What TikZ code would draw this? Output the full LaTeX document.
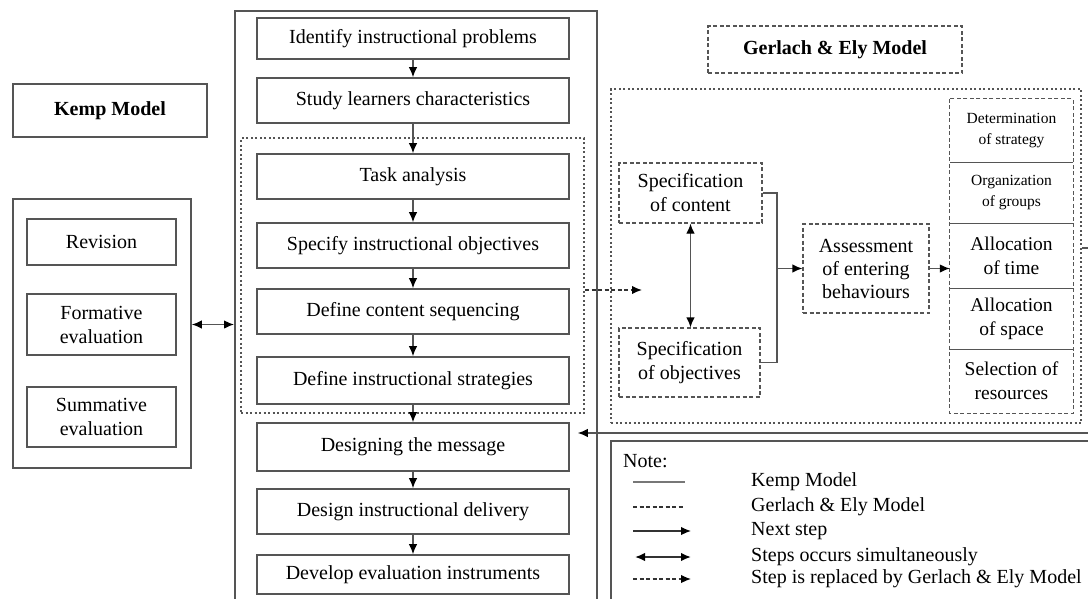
\documentclass[tikz,border=0pt]{standalone}
\usepackage{fontspec}
\setmainfont{Liberation Serif}
\usetikzlibrary{arrows.meta,calc}
\definecolor{lc}{HTML}{555555}
\tikzset{
  txt/.style={align=center, inner sep=0pt, font=\fontsize{20}{24}\selectfont},
  box/.style={txt, draw=lc, line width=1.6pt},
  dbox/.style={txt, draw=lc, line width=1.3pt, dash pattern=on 4pt off 2.5pt},
  dotbox/.style={draw=lc, line width=2pt, dash pattern=on 2pt off 2.5pt, inner sep=0pt},
  tip/.tip={Latex[length=10pt,width=8.5pt,color=black]},
  arr/.style={draw=lc, line width=1.3pt, -tip},
  darr/.style={draw=lc, line width=1.5pt, tip-tip},
  dasharr/.style={draw=black!80, line width=1.4pt, dash pattern=on 4pt off 2.5pt, -tip},
  leg/.style={anchor=west, inner sep=0pt, font=\fontsize{20}{22}\selectfont},
}
\begin{document}
\begin{tikzpicture}[x=1pt,y=-1pt]
\useasboundingbox (0,0) rectangle (1088,598);

% ---------- left: Kemp title and evaluation group
\node[box, font=\fontsize{20}{24}\selectfont\bfseries, minimum width=194, minimum height=53] (kt) at (110,110.5) {Kemp Model};
\node[box, minimum width=178, minimum height=269] (grp) at (102,333.5) {};
\node[box, minimum width=149, minimum height=46] (rev) at (101.5,242) {Revision};
\node[box, minimum width=149, minimum height=61] (form) at (101.5,324.5) {Formative\\evaluation};
\node[box, minimum width=149, minimum height=60] (summ) at (101.5,417) {Summative\\evaluation};

% ---------- Kemp column
\node[box, line width=1.8pt, minimum width=362, minimum height=600] (kemp) at (416,311) {};
\node[dotbox, minimum width=343, minimum height=275] (inner) at (412.5,275.5) {};
\node[box, minimum width=312, minimum height=41] (n1) at (413,38.5) {Identify instructional problems};
\node[box, minimum width=312, minimum height=45] (n2) at (413,100.5) {Study learners characteristics};
\node[box, minimum width=312, minimum height=45] (n3) at (413,176.5) {Task analysis};
\node[box, minimum width=312, minimum height=45] (n4) at (413,245.5) {Specify instructional objectives};
\node[box, minimum width=312, minimum height=45] (n5) at (413,311.5) {Define content sequencing};
\node[box, minimum width=312, minimum height=47] (n6) at (413,380.5) {Define instructional strategies};
\node[box, minimum width=312, minimum height=48] (n7) at (413,447) {Designing the message};
\node[box, minimum width=312, minimum height=45] (n8) at (413,511.5) {Design instructional delivery};
\node[box, minimum width=312, minimum height=39] (n9) at (413,574.5) {Develop evaluation instruments};

\foreach \a/\b in {n1/n2,n2/n3,n3/n4,n4/n5,n5/n6,n6/n7,n7/n8,n8/n9}
  \draw[arr] (\a) -- (\b);

\draw[darr] (grp.east|-form) -- (kemp.west|-form);

% ---------- Gerlach & Ely
\node[dbox, font=\fontsize{20}{24}\selectfont\bfseries, minimum width=254, minimum height=47] (gt) at (835,49.5) {Gerlach \& Ely Model};
\node[dotbox, minimum width=470, minimum height=334] (gout) at (846,256) {};
\node[dbox, minimum width=143, minimum height=60] (sc) at (690.5,193) {Specification\\of content};
\node[dbox, minimum width=141, minimum height=69] (so) at (689.5,362.5) {Specification\\of objectives};
\node[dbox, font=\fontsize{20}{23}\selectfont, minimum width=126, minimum height=89] (as) at (866,268.5) {Assessment\\of entering\\behaviours};

\node[txt, font=\fontsize{15.5}{21}\selectfont, minimum width=123, minimum height=63] (s1) at (1011.5,130.5) {Determination\\of strategy};
\node[txt, font=\fontsize{15.5}{21}\selectfont, minimum width=123, minimum height=61] (s2) at (1011.5,192.5) {Organization\\of groups};
\node[txt, font=\fontsize{19.5}{24}\selectfont, minimum width=123, minimum height=65] (s3) at (1011.5,255.5) {Allocation\\of time};
\node[txt, font=\fontsize{19.5}{24}\selectfont, minimum width=123, minimum height=61] (s4) at (1011.5,318.5) {Allocation\\of space};
\node[txt, font=\fontsize{19.5}{24}\selectfont, minimum width=123, minimum height=64] (s5) at (1011.5,381) {Selection of\\resources};
\draw[lc, line width=1.3pt, dash pattern=on 4pt off 2.5pt] (s1.north west) rectangle (s5.south east);
\foreach \a in {s1,s2,s3,s4}
  \draw[lc, line width=1.2pt] (\a.south west) -- (\a.south east);

\coordinate (dend) at (642,290);
\draw[dasharr] (inner.east|-dend) -- (dend);

\draw[darr, line width=1.3pt] (sc.south) -- (sc.south|-so.north);
\coordinate (jn) at (777,268.5);
\draw[lc, line width=1.3pt] (sc.east) -- (sc.east-|jn) -- (so.east-|jn) -- (so.east);
\draw[arr] (jn) -- (as.west);
\draw[arr] (as.east) -- (s1.west|-as.east);

% return connector to "Designing the message"
\coordinate (rt) at (1095,248);
\coordinate (rb) at (1095,433);
\draw[lc, line width=1.4pt] (gout.east|-rt) -- (rt) -- (rb);
\draw[arr, line width=1.5pt, shorten >=8pt] (rb) -- (n7.east|-rb);

% ---------- legend
\node[draw=lc, line width=1.7pt, minimum width=489, minimum height=180, inner sep=0pt] (lg) at (855.5,531) {};
\node[leg] (note) at (623,461) {Note:};
\coordinate (l1a) at (633,482); \coordinate (l1b) at (685,482);
\coordinate (l2a) at (633,507); \coordinate (l2b) at (683,507);
\coordinate (l3a) at (633,531); \coordinate (l3b) at (691,531);
\coordinate (l4a) at (635,557); \coordinate (l4b) at (691,557);
\coordinate (l5a) at (633,579); \coordinate (l5b) at (691,579);
\draw[lc!80, line width=2.2pt] (l1a) -- (l1b);
\draw[black!80, line width=1.3pt, dash pattern=on 4pt off 2.5pt] (l2a) -- (l2b);
\draw[arr, draw=black!80] (l3a) -- (l3b);
\draw[darr, draw=black!80, line width=1.7pt] (l4a) -- (l4b);
\draw[dasharr, line width=1.3pt] (l5a) -- (l5b);
\node[leg] (t1) at (751,482) {Kemp Model};
\node[leg] (t2) at (751,507) {Gerlach \& Ely Model};
\node[leg] (t3) at (751,531) {Next step};
\node[leg] (t4) at (751,557) {Steps occurs simultaneously};
\node[leg] (t5) at (751,579) {Step is replaced by Gerlach \& Ely Model};
\end{tikzpicture}
\end{document}
